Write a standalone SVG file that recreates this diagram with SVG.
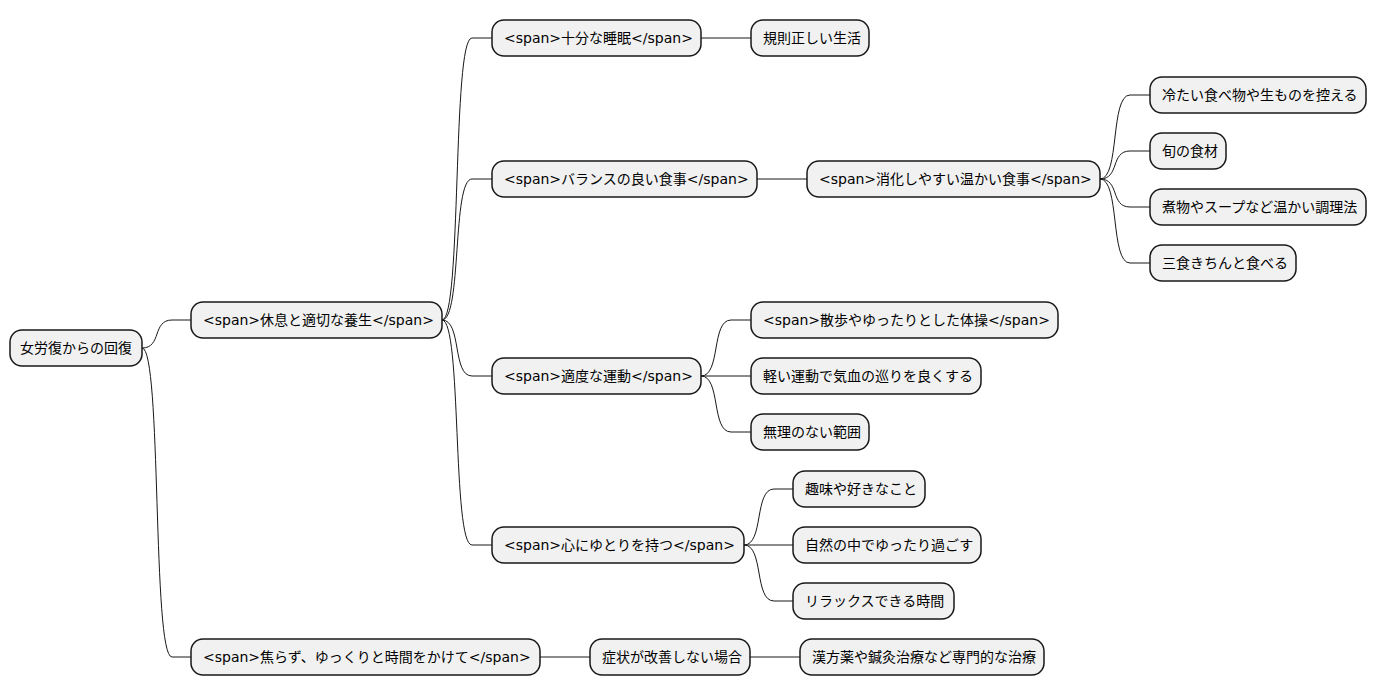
<svg xmlns="http://www.w3.org/2000/svg" width="1377" height="696" viewBox="0 0 1377 696">
<style>
rect{fill:#F1F1F1;stroke:#181818;stroke-width:1.5}
text{font-family:"DejaVu Sans","Noto Sans CJK JP",sans-serif;font-size:14px;fill:#000}
#connectors path{fill:none;stroke:#181818;stroke-width:1}
</style>
<rect width="1377" height="696" style="fill:#fff;stroke:none"/>
<g id="connectors">
<path d="M142,348 C162,348 152,320 172,320 L191,320 M142,348 C162,348 152,657 172,657 L191,657"/>
<path d="M442,320 C462,320 452,38 472,38 L492,38 M442,320 C462,320 452,179 472,179 L492,179 M442,320 C462,320 452,376 472,376 L492,376 M442,320 C462,320 452,545 472,545 L492,545"/>
<path d="M701,38 L751,38 M757,179 L807,179"/>
<path d="M1100,179 C1120,179 1110,95 1130,95 L1150,95 M1100,179 C1120,179 1110,151 1130,151 L1150,151 M1100,179 C1120,179 1110,207 1130,207 L1150,207 M1100,179 C1120,179 1110,263 1130,263 L1150,263"/>
<path d="M701,376 C721,376 711,320 731,320 L751,320 M701,376 L751,376 M701,376 C721,376 711,432 731,432 L751,432"/>
<path d="M744,545 C764,545 754,489 774,489 L793,489 M744,545 L793,545 M744,545 C764,545 754,601 774,601 L793,601"/>
<path d="M540,657 L590,657 M750,657 L800,657"/>
</g>
<g id="root"><rect x="10" y="330" width="132" height="36" rx="12"/><text x="20" y="353">女労復からの回復</text></g>
<g id="n1"><rect x="191" y="302" width="251" height="36" rx="12"/><text x="203" y="325">&lt;span&gt;休息と適切な養生&lt;/span&gt;</text></g>
<g id="n2"><rect x="191" y="639" width="349" height="36" rx="12"/><text x="203" y="662">&lt;span&gt;焦らず、ゆっくりと時間をかけて&lt;/span&gt;</text></g>
<g id="n3"><rect x="492" y="20" width="209" height="36" rx="12"/><text x="504" y="43">&lt;span&gt;十分な睡眠&lt;/span&gt;</text></g>
<g id="n4"><rect x="492" y="161" width="265" height="36" rx="12"/><text x="504" y="184">&lt;span&gt;バランスの良い食事&lt;/span&gt;</text></g>
<g id="n5"><rect x="492" y="358" width="209" height="36" rx="12"/><text x="504" y="381">&lt;span&gt;適度な運動&lt;/span&gt;</text></g>
<g id="n6"><rect x="492" y="527" width="252" height="36" rx="12"/><text x="504" y="550">&lt;span&gt;心にゆとりを持つ&lt;/span&gt;</text></g>
<g id="n7"><rect x="751" y="20" width="118" height="36" rx="12"/><text x="763" y="43">規則正しい生活</text></g>
<g id="n8"><rect x="807" y="161" width="293" height="36" rx="12"/><text x="819" y="184">&lt;span&gt;消化しやすい温かい食事&lt;/span&gt;</text></g>
<g id="n9"><rect x="1150" y="77" width="216" height="36" rx="12"/><text x="1162" y="100">冷たい食べ物や生ものを控える</text></g>
<g id="n10"><rect x="1150" y="133" width="76" height="36" rx="12"/><text x="1162" y="156">旬の食材</text></g>
<g id="n11"><rect x="1150" y="189" width="216" height="36" rx="12"/><text x="1162" y="212">煮物やスープなど温かい調理法</text></g>
<g id="n12"><rect x="1150" y="245" width="146" height="36" rx="12"/><text x="1162" y="268">三食きちんと食べる</text></g>
<g id="n13"><rect x="751" y="302" width="307" height="36" rx="12"/><text x="763" y="325">&lt;span&gt;散歩やゆったりとした体操&lt;/span&gt;</text></g>
<g id="n14"><rect x="751" y="358" width="230" height="36" rx="12"/><text x="763" y="381">軽い運動で気血の巡りを良くする</text></g>
<g id="n15"><rect x="751" y="414" width="118" height="36" rx="12"/><text x="763" y="437">無理のない範囲</text></g>
<g id="n16"><rect x="793" y="471" width="132" height="36" rx="12"/><text x="805" y="494">趣味や好きなこと</text></g>
<g id="n17"><rect x="793" y="527" width="188" height="36" rx="12"/><text x="805" y="550">自然の中でゆったり過ごす</text></g>
<g id="n18"><rect x="793" y="583" width="161" height="36" rx="12"/><text x="805" y="606">リラックスできる時間</text></g>
<g id="n19"><rect x="590" y="639" width="160" height="36" rx="12"/><text x="602" y="662">症状が改善しない場合</text></g>
<g id="n20"><rect x="800" y="639" width="244" height="36" rx="12"/><text x="812" y="662">漢方薬や鍼灸治療など専門的な治療</text></g>
</svg>
